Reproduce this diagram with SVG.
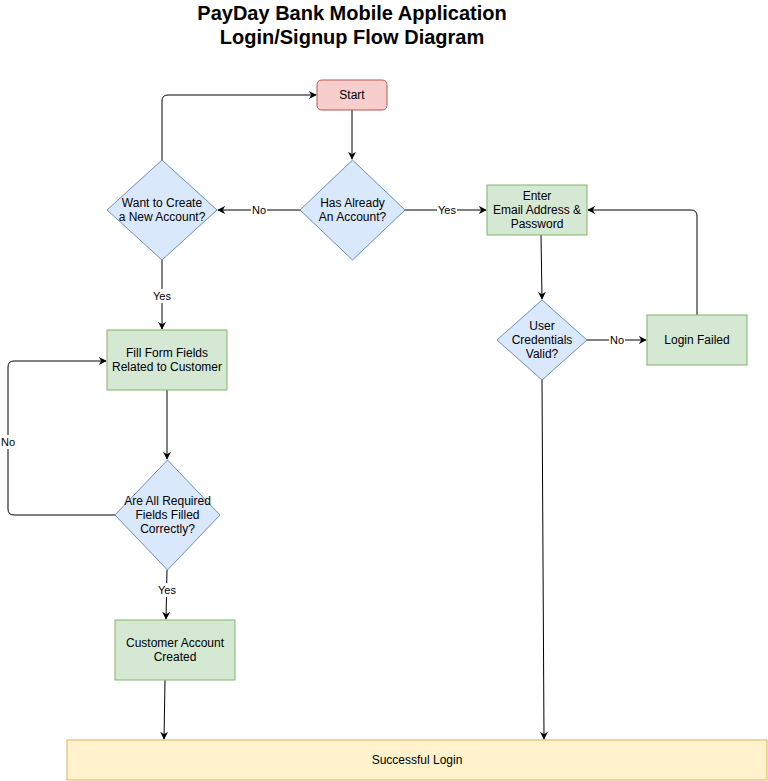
<svg xmlns="http://www.w3.org/2000/svg" width="768" height="781" viewBox="0 0 768 781">
<style>
text{font-family:"Liberation Sans",Arial,sans-serif;font-size:12px;fill:#000;text-anchor:middle;dominant-baseline:central}
.title{font-size:20px;font-weight:bold}
.dec{fill:#dae8fc;stroke:#6c8ebf;stroke-width:1}
.proc{fill:#d5e8d4;stroke:#82b366;stroke-width:1}
.start{fill:#f8cecc;stroke:#b85450;stroke-width:1}
.end{fill:#fff2cc;stroke:#d6b656;stroke-width:1}
.edge{fill:none;stroke:#000;stroke-width:1}
.lbl{font-size:11px}
.lblbg{fill:#fff}
</style>
<defs>
<marker id="arr" viewBox="0 0 10 10" refX="9" refY="5" markerWidth="8" markerHeight="8" markerUnits="userSpaceOnUse" orient="auto">
<path d="M0,0 L10,5 L0,10 L3,5 Z" fill="#000"/>
</marker>
</defs>
<rect width="768" height="781" fill="#fff"/>
<g id="title">
<text class="title" x="352" y="13">PayDay Bank Mobile Application</text>
<text class="title" x="352" y="37">Login/Signup Flow Diagram</text>
</g>
<g id="connectors">
<path class="edge" d="M352,110 L352,159" marker-end="url(#arr)"/>
<path class="edge" d="M162,160 L162,101 Q162,95 168,95 L316,95" marker-end="url(#arr)"/>
<path class="edge" d="M300,210 L218,210" marker-end="url(#arr)"/>
<path class="edge" d="M405,210 L486,210" marker-end="url(#arr)"/>
<path class="edge" d="M541,235 L542,299" marker-end="url(#arr)"/>
<path class="edge" d="M587,340 L646,340" marker-end="url(#arr)"/>
<path class="edge" d="M697,315 L697,216 Q697,210 691,210 L588,210" marker-end="url(#arr)"/>
<path class="edge" d="M542,380 L544,739" marker-end="url(#arr)"/>
<path class="edge" d="M162,260 L162,329" marker-end="url(#arr)"/>
<path class="edge" d="M167,390 L167,459" marker-end="url(#arr)"/>
<path class="edge" d="M115,515 L14,515 Q8,515 8,509 L8,367 Q8,361 14,361 L106,361" marker-end="url(#arr)"/>
<path class="edge" d="M167,570 L166,619" marker-end="url(#arr)"/>
<path class="edge" d="M165,680 L164,739" marker-end="url(#arr)"/>
<rect class="lblbg" x="251" y="203" width="16" height="14"/>
<text class="lbl" x="259" y="210">No</text>
<rect class="lblbg" x="437" y="203" width="20" height="14"/>
<text class="lbl" x="447" y="210">Yes</text>
<rect class="lblbg" x="609" y="333" width="16" height="14"/>
<text class="lbl" x="617" y="340">No</text>
<rect class="lblbg" x="152" y="289" width="20" height="14"/>
<text class="lbl" x="162" y="296">Yes</text>
<rect class="lblbg" x="0" y="435" width="16" height="14"/>
<text class="lbl" x="8" y="442">No</text>
<rect class="lblbg" x="157" y="583" width="20" height="14"/>
<text class="lbl" x="167" y="590">Yes</text>
</g>
<g id="start">
<rect class="start" x="317" y="80" width="70" height="30" rx="4.5"/>
<text x="352" y="95">Start</text>
</g>
<g id="has-account">
<path class="dec" d="M352.5,160 L405,210 L352.5,260 L300,210 Z"/>
<text x="352.5" y="203">Has Already</text>
<text x="352.5" y="217">An Account?</text>
</g>
<g id="want-create">
<path class="dec" d="M162,160 L217,210 L162,260 L107,210 Z"/>
<text x="162" y="203">Want to Create</text>
<text x="162" y="217">a New Account?</text>
</g>
<g id="enter-email">
<rect class="proc" x="487" y="185" width="100" height="50"/>
<text x="537" y="196">Enter</text>
<text x="537" y="210">Email Address &amp;</text>
<text x="537" y="224">Password</text>
</g>
<g id="credentials-valid">
<path class="dec" d="M542,300 L587,340 L542,380 L497,340 Z"/>
<text x="542" y="326">User</text>
<text x="542" y="340">Credentials</text>
<text x="542" y="354">Valid?</text>
</g>
<g id="login-failed">
<rect class="proc" x="647" y="315" width="100" height="50"/>
<text x="697" y="340">Login Failed</text>
</g>
<g id="fill-form">
<rect class="proc" x="107" y="330" width="120" height="60"/>
<text x="167" y="353">Fill Form Fields</text>
<text x="167" y="367">Related to Customer</text>
</g>
<g id="fields-filled">
<path class="dec" d="M167.5,460 L220,515 L167.5,570 L115,515 Z"/>
<text x="167.5" y="501">Are All Required</text>
<text x="167.5" y="515">Fields Filled</text>
<text x="167.5" y="529">Correctly?</text>
</g>
<g id="account-created">
<rect class="proc" x="115" y="620" width="120" height="60"/>
<text x="175" y="643">Customer Account</text>
<text x="175" y="657">Created</text>
</g>
<g id="successful-login">
<rect class="end" x="67" y="740" width="700" height="40"/>
<text x="417" y="760">Successful Login</text>
</g>
</svg>
